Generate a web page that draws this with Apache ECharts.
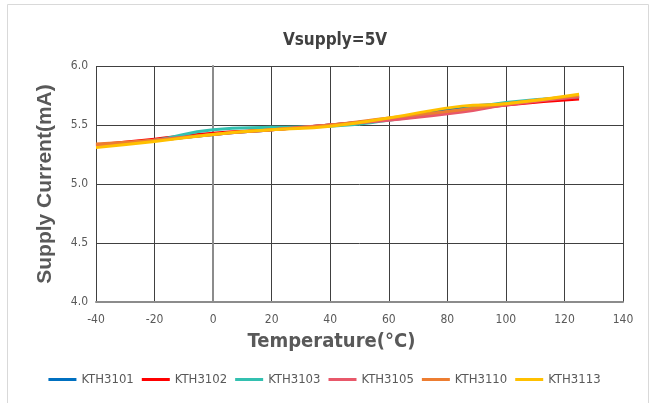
<!DOCTYPE html>
<html><head><meta charset="utf-8">
<script src="https://cdn.jsdelivr.net/npm/echarts@6/dist/echarts.min.js"></script>
<style>html,body{margin:0;padding:0;background:#fff}#c{width:649px;height:403px}</style>
</head><body><div id="c"></div>
<script>
const temps = [-40, -20, 0, 20, 40, 60, 85, 100, 125];
const seriesNames = ['KTH3101','KTH3102','KTH3103','KTH3105','KTH3110','KTH3113'];
const KTH3101 = [5.33, 5.37, 5.42, 5.46, 5.50, 5.55, 5.65, 5.68, 5.74];
const KTH3102 = [5.33, 5.38, 5.43, 5.46, 5.50, 5.55, 5.62, 5.67, 5.72];
const KTH3103 = [5.32, 5.37, 5.46, 5.48, 5.49, 5.54, 5.63, 5.69, 5.74];
const KTH3105 = [5.32, 5.37, 5.42, 5.46, 5.50, 5.54, 5.61, 5.67, 5.74];
const KTH3110 = [5.34, 5.37, 5.42, 5.46, 5.50, 5.56, 5.63, 5.68, 5.75];
const KTH3113 = [5.31, 5.36, 5.42, 5.46, 5.49, 5.56, 5.66, 5.68, 5.76];
const colors = ['#0070C0','#FF0000','#33C0B0','#E8586A','#ED7D31','#FFC000'];
const allData = [KTH3101,KTH3102,KTH3103,KTH3105,KTH3110,KTH3113];
const cond = 'DejaVu Sans Condensed, sans-serif';

const chart = echarts.init(document.getElementById('c'));
chart.setOption({
  animation:false,
  backgroundColor:'#fff',
  color: colors,
  title:{text:'Vsupply=5V', left:330, textAlign:'center', top:27,
    textStyle:{fontFamily:cond, fontWeight:'bold', fontSize:17, color:'#404040'}},
  graphic:[{type:'rect', shape:{x:7.5,y:4.5,width:641,height:400}, style:{fill:'none', stroke:'#d9d9d9', lineWidth:1}, silent:true}],
  grid:{left:96, right:26, top:66, bottom:101},
  legend:{bottom:12, left:'center', itemWidth:28, itemHeight:3, itemGap:8, icon:'rect',
    textStyle:{fontFamily:cond, fontSize:13, color:'#595959'},
    data: seriesNames},
  xAxis:{type:'value', min:-40, max:140, interval:20,
    name:'Temperature(°C)', nameLocation:'middle', nameGap:30,
    nameTextStyle:{fontFamily:cond, fontWeight:'bold', fontSize:20, color:'#595959', padding:[0,56,0,0]},
    axisLine:{lineStyle:{color:'#8c8c8c', width:2}}, axisTick:{show:false},
    axisLabel:{color:'#595959', fontSize:12, margin:12, fontFamily:cond},
    splitLine:{show:true, lineStyle:{color:'#404040', width:1}}},
  yAxis:{type:'value', min:4.0, max:6.0, interval:0.5,
    name:'Supply Current(mA)', nameLocation:'middle', nameGap:40,
    nameTextStyle:{fontFamily:'Liberation Sans, Arial, sans-serif', fontWeight:'bold', fontSize:21, color:'#595959'},
    axisLine:{show:true, lineStyle:{color:'#8c8c8c', width:2}}, axisTick:{show:false},
    axisLabel:{color:'#595959', fontSize:12, margin:8, formatter:v=>v.toFixed(1), fontFamily:cond},
    splitLine:{show:true, lineStyle:{color:'#404040', width:1}}},
  series: seriesNames.map((n,i)=>({
    name:n, type:'line', smooth:true, showSymbol:false, symbol:'none',
    lineStyle:{width:3, color:colors[i]},
    data: temps.map((t,j)=>[t, allData[i][j]])
  }))
});
</script></body></html>
